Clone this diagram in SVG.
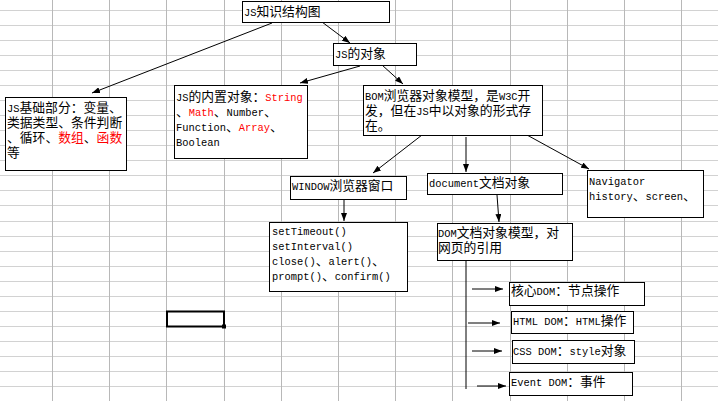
<svg xmlns="http://www.w3.org/2000/svg" width="718" height="401" viewBox="0 0 718 401">
<style>
.bg{fill:#fff}
.gh{stroke:#d2d2d2;stroke-width:1;fill:none;shape-rendering:crispEdges}
.gv{stroke:#b8b8b8;stroke-width:1;fill:none;shape-rendering:crispEdges}
.box{fill:#fff;stroke:#000;stroke-width:1;shape-rendering:crispEdges}
.t{font-family:"Liberation Mono","Noto Sans CJK SC",monospace;font-size:10.4px;fill:#000}
.c{font-family:"Noto Sans CJK SC","Liberation Mono",sans-serif;font-size:12.8px}
.r{fill:#ff0000}
.ln{stroke:#000;stroke-width:1;fill:none}
.ar{marker-end:url(#ah)}
</style>
<defs>
<marker id="ah" markerUnits="userSpaceOnUse" markerWidth="8" markerHeight="6" refX="8" refY="3" orient="auto">
<path d="M0,0 L8,3 L0,6 z" fill="#000"/>
</marker>
</defs>
<rect class="bg" x="0" y="0" width="718" height="401"/>
<g id="grid">
<path class="gh" d="M0,10H718M0,25.1H718M0,40.1H718M0,55.2H718M0,70.3H718M0,85.4H718M0,100.4H718M0,115.5H718M0,130.6H718M0,145.6H718M0,160.7H718M0,175.8H718M0,190.8H718M0,205.9H718M0,221H718M0,236.1H718M0,251.1H718M0,266.2H718M0,281.3H718M0,296.3H718M0,311.4H718M0,326.5H718M0,341.5H718M0,356.6H718M0,371.7H718M0,386.8H718"/>
<path class="gv" d="M52.5,0V401M109.5,0V401M166.5,0V401M224.5,0V401M281.5,0V401M338.5,0V401M395.5,0V401M452.5,0V401M510.5,0V401M567.5,0V401M624.5,0V401M681.5,0V401"/>
<rect x="167" y="311.5" width="57" height="15" fill="none" stroke="#000" stroke-width="2"/>
<rect x="222" y="324.5" width="4" height="4" fill="#000"/>
</g>
<g id="connectors">
<line class="ln ar" x1="272" y1="23" x2="92" y2="93"/>
<line class="ln ar" x1="322" y1="22" x2="350" y2="43"/>
<line class="ln ar" x1="360" y1="66" x2="300" y2="83"/>
<line class="ln ar" x1="382" y1="65" x2="403" y2="84"/>
<line class="ln ar" x1="422" y1="135" x2="373" y2="173"/>
<line class="ln ar" x1="466" y1="137" x2="466" y2="172"/>
<line class="ln ar" x1="527" y1="135" x2="589" y2="169"/>
<line class="ln ar" x1="344" y1="200" x2="344" y2="221"/>
<line class="ln ar" x1="497" y1="195" x2="499" y2="222"/>
<line class="ln" x1="466" y1="260" x2="466" y2="389"/>
<line class="ln ar" x1="472" y1="289" x2="503" y2="289"/>
<line class="ln ar" x1="468" y1="323" x2="500" y2="323"/>
<line class="ln ar" x1="472" y1="351" x2="502" y2="351"/>
<line class="ln ar" x1="477" y1="386" x2="506" y2="386"/>
</g>
<g id="n1">
<rect class="box" x="242" y="1" width="147" height="21"/>
<text class="t" x="244" y="16">JS<tspan class="c">知识结构图</tspan></text>
</g>
<g id="n2">
<rect class="box" x="333" y="43" width="83" height="22"/>
<text class="t" x="335" y="58">JS<tspan class="c">的对象</tspan></text>
</g>
<g id="n3">
<rect class="box" x="5" y="97" width="121" height="73"/>
<text class="t" x="7" y="112">JS<tspan class="c">基础部分：变量、</tspan></text>
<text class="t" x="7" y="127"><tspan class="c">类据类型、条件判断</tspan></text>
<text class="t" x="7" y="142"><tspan class="c">、循环、</tspan><tspan class="c r">数组</tspan><tspan class="c">、</tspan><tspan class="c r">函数</tspan></text>
<text class="t" x="7" y="157"><tspan class="c">等</tspan></text>
</g>
<g id="n4">
<rect class="box" x="174" y="85" width="133" height="73"/>
<text class="t" x="176" y="101">JS<tspan class="c">的内置对象：</tspan><tspan class="r">String</tspan></text>
<text class="t" x="176" y="116"><tspan class="c">、</tspan><tspan class="r">Math</tspan><tspan class="c">、</tspan>Number<tspan class="c">、</tspan></text>
<text class="t" x="176" y="131">Function<tspan class="c">、</tspan><tspan class="r">Array</tspan><tspan class="c">、</tspan></text>
<text class="t" x="176" y="146">Boolean</text>
</g>
<g id="n5">
<rect class="box" x="363" y="85" width="179" height="50"/>
<text class="t" x="365" y="100">BOM<tspan class="c">浏览器对象模型，是</tspan>W3C<tspan class="c">开</tspan></text>
<text class="t" x="365" y="115"><tspan class="c">发，但在</tspan>JS<tspan class="c">中以对象的形式存</tspan></text>
<text class="t" x="365" y="130"><tspan class="c">在。</tspan></text>
</g>
<g id="n6">
<rect class="box" x="290" y="176" width="116" height="23"/>
<text class="t" x="292" y="190">WINDOW<tspan class="c">浏览器窗口</tspan></text>
</g>
<g id="n7">
<rect class="box" x="269" y="222" width="138" height="69"/>
<text class="t" x="272" y="235">setTimeout()</text>
<text class="t" x="272" y="250">setInterval()</text>
<text class="t" x="272" y="265">close()<tspan class="c">、</tspan>alert()<tspan class="c">、</tspan></text>
<text class="t" x="272" y="280">prompt()<tspan class="c">、</tspan>confirm()</text>
</g>
<g id="n8">
<rect class="box" x="427" y="173" width="135" height="21"/>
<text class="t" x="429" y="187">document<tspan class="c">文档对象</tspan></text>
</g>
<g id="n9">
<rect class="box" x="587" y="170" width="116" height="47"/>
<text class="t" x="589" y="185">Navigator</text>
<text class="t" x="589" y="200">history<tspan class="c">、</tspan>screen<tspan class="c">、</tspan></text>
</g>
<g id="n10">
<rect class="box" x="437" y="223" width="135" height="37"/>
<text class="t" x="438" y="237">DOM<tspan class="c">文档对象模型，对</tspan></text>
<text class="t" x="438" y="252"><tspan class="c">网页的引用</tspan></text>
</g>
<g id="n11">
<rect class="box" x="509" y="282" width="135" height="23"/>
<text class="t" x="511" y="295"><tspan class="c">核心</tspan>DOM<tspan class="c">：节点操作</tspan></text>
</g>
<g id="n12">
<rect class="box" x="511" y="311" width="122" height="22"/>
<text class="t" x="513" y="325">HTML DOM<tspan class="c">：</tspan>HTML<tspan class="c">操作</tspan></text>
</g>
<g id="n13">
<rect class="box" x="512" y="340" width="122" height="23"/>
<text class="t" x="513" y="355">CSS DOM<tspan class="c">：</tspan>style<tspan class="c">对象</tspan></text>
</g>
<g id="n14">
<rect class="box" x="509" y="372" width="123" height="23"/>
<text class="t" x="511" y="386">Event DOM<tspan class="c">：事件</tspan></text>
</g>
</svg>
